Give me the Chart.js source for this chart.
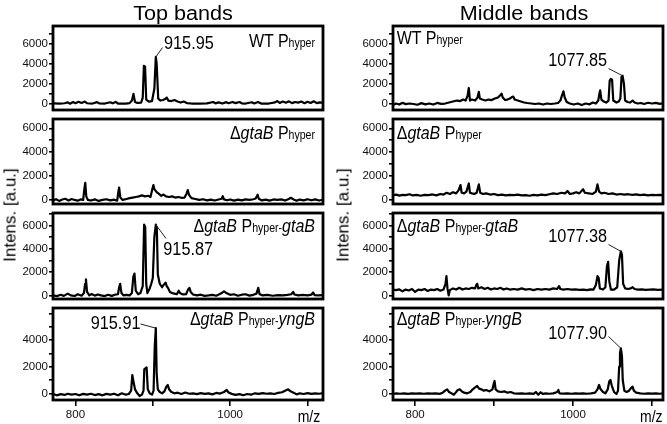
<!DOCTYPE html>
<html><head><meta charset="utf-8">
<script src="https://cdn.jsdelivr.net/npm/chart.js@4/dist/chart.umd.min.js"></script>
<style>
html,body{margin:0;padding:0;background:#fff;}
#root{position:relative;width:667px;height:424px;overflow:hidden;font-family:"Liberation Sans",Arial,sans-serif;color:#000;background:#fff;}
canvas{position:absolute;}
.t{position:absolute;white-space:nowrap;line-height:1;}
.s{font-size:0.66em;}
</style></head><body><div id="root"></div>
<script>
// ---------- DATA ----------
const titles = ["Top bands", "Middle bands"];
const panelLabels = [
  'WT P<span class="s">hyper</span>',
  '\u0394<i>gtaB</i> P<span class="s">hyper</span>',
  '\u0394<i>gtaB</i> P<span class="s">hyper-</span><i>gtaB</i>',
  '\u0394<i>gtaB</i> P<span class="s">hyper-</span><i>yngB</i>'
];
const yAxisTitle = "Intens. [a.u.]";
const xAxisTitle = "m/z";
const xTickValues = [800, 900, 1000, 1100];
const xTickLabels = [800, 1000];
const yTickLabelsUpper = [0, 2000, 4000, 6000];
const yTickLabelsBottom = [0, 2000, 4000];

// Top bands, WT Phyper
const topWT_mz = [771,780,786,790,793,797,800,804,808,812,815,822,828,831,838,845,848,852,855,865,870,873,875,877,880,885,887,888.5,890,891.5,895,899,902,903.9,905,907,910,913,916,918,920,924,928,932,936,940,944,950,960,970,978,981,985,990,995,998,1003,1007,1012,1015,1020,1028,1031,1036,1040,1050,1058,1061,1064,1068,1072,1076,1080,1084,1088,1092,1096,1100,1104,1108,1112,1116,1120];
const topWT_int = [20,0,30,120,-20,150,40,180,60,200,30,0,140,10,0,130,20,160,0,0,40,300,970,150,60,100,600,3790,3700,400,200,250,1500,4680,4000,500,300,350,450,600,300,250,350,200,100,200,50,0,0,20,150,20,120,0,140,30,160,40,150,20,0,130,10,150,0,0,120,250,60,200,80,220,40,150,90,200,30,180,60,230,40,120,60];
// Top bands, dgtaB Phyper
const topDel_mz = [771,775,779,783,787,791,795,799,803,807,810,811.5,812.7,814,816,820,825,830,835,840,845,850,854,855.5,856.5,858,861,866,870,874,878,882,886,890,894,897,899,900.8,902,905,908,911,914,917,921,925,929,933,937,941,943.5,945.2,947,950,955,960,965,970,975,980,985,989,990.4,992,996,1000,1005,1010,1015,1020,1025,1030,1033,1035.5,1037,1041,1046,1051,1056,1061,1066,1071,1075,1078.5,1082,1086,1090,1095,1100,1105,1110,1115,1120];
const topDel_int = [-50,60,-80,40,100,-40,80,0,-60,50,0,900,1425,300,0,-50,50,-80,0,60,-40,20,-60,700,1036,200,0,80,150,200,250,300,380,300,350,250,800,1246,900,650,500,350,450,300,250,300,200,250,180,200,500,826,400,150,80,0,60,-40,30,-50,40,100,311,50,-30,40,-60,30,-40,50,0,60,120,436,100,-40,30,-60,40,0,50,-50,60,180,40,-60,30,-40,60,-30,50,-50,20];
// Top bands, dgtaB Phyper-gtaB
const topGta_mz = [771,776,781,785,790,794,799,803,808,811,812.5,813.6,815,818,821,825,829,833,838,842,847,851,855,856.5,857.8,859.5,862,866,870,873,874.8,876.3,878,881,884,887,888.8,890.2,891.5,893,896,898,900,902,903.9,905.2,906.5,909,912,914,916.5,918,920,922,925,928,931,933.5,935,939,943,945.5,947.3,949,952,957,962,967,972,977,982,986,989,992,994,997,1000,1005,1010,1015,1020,1025,1030,1034,1036.3,1038,1042,1048,1055,1062,1068,1074,1079,1081.5,1083,1088,1094,1100,1105,1107.3,1109,1114,1120];
const topGta_int = [0,-60,50,-40,150,0,-50,100,-30,200,1000,1380,300,0,120,-20,80,0,-60,50,-40,60,100,700,988,200,0,50,0,200,1600,1880,400,100,200,800,6080,5900,1000,200,600,1000,1500,5000,6080,5800,1800,1000,700,900,1100,800,600,300,200,150,100,400,200,80,100,500,650,300,80,0,60,-40,0,50,-30,100,200,350,250,150,50,100,-30,60,100,-20,50,150,650,100,0,40,-30,30,0,50,100,300,80,0,40,0,60,250,30,0,20];
// Top bands, dgtaB Phyper-yngB
const topYng_mz = [771,776,781,786,790,795,800,805,810,815,820,825,830,835,840,845,850,855,860,865,869,872,873.5,875,877,880,883,886,888,889,890.5,892,893.5,896,899,901,902.5,903.9,905,906.5,909,912,915,917.5,919.4,921,924,928,932,937,942,947,952,957,962,967,972,977,982,987,992,995.5,998,1002,1007,1012,1017,1022,1027,1032,1037,1042,1047,1052,1057,1062,1067,1071,1075,1078,1082,1086,1090,1095,1100,1105,1110,1115,1120];
const topYng_int = [-50,-150,-60,-120,-30,-100,-50,-150,-40,-100,-30,-130,-60,-150,-40,-100,-30,-150,0,-100,-50,200,1375,900,300,0,-200,-100,200,1800,1880,1950,300,0,-100,200,3500,4890,1500,300,100,0,150,500,625,300,100,0,50,-50,60,-30,0,-60,20,-40,0,-80,30,-20,100,250,60,-40,-120,-60,-140,-50,-100,0,-40,20,-30,0,-50,30,80,200,300,150,50,-80,0,-50,20,-40,0,-30,10];
// Middle bands, WT Phyper
const midWT_mz = [772,776,780,784,788,793,798,803,808,813,818,823,828,833,838,843,848,853,857,861,864,866.5,868,869.5,872,876,879,880.7,882,885,889,893,897,901,905,907.5,909.5,911,914,917,920,922.5,924.4,926,930,934,938,942,947,952,957,962,967,972,977,981,984,986,987.9,989.5,992,996,1001,1006,1011,1016,1021,1025,1029,1032,1033.5,1034.4,1036,1039,1042,1045,1046.5,1048,1049.5,1051,1055,1058,1060,1061.5,1062.8,1064.5,1066,1069,1072,1075.5,1078,1082,1086,1090,1095,1100,1105,1110,1114];
const midWT_int = [-150,0,-100,80,-60,0,-50,-120,40,-80,0,-100,60,-40,0,100,200,300,250,400,300,800,1564,300,400,300,600,1170,500,400,300,400,350,500,600,800,1000,600,350,400,500,650,700,400,300,200,100,50,0,-50,0,-100,0,-50,0,50,300,800,1230,600,150,0,-100,0,-150,0,-80,100,0,300,1000,1320,400,200,100,300,2300,2480,2400,300,100,200,500,2700,2790,2000,300,150,100,300,100,0,50,-50,80,0,60,-30,40];
// Middle bands, dgtaB Phyper
const midDel_mz = [772,776,780,784,788,793,797,802,807,812,817,822,827,832,836,840,844,848,852,855,857.5,859,862,865,868,869.5,872,875,878,880.7,882.5,886,890,895,900,905,910,915,920,925,930,935,940,945,950,955,960,965,970,975,980,985,990,993,996,1000,1004,1008,1012.8,1015,1020,1025,1029,1031,1033,1036,1040,1045,1050,1055,1060,1065,1070,1075,1080,1085,1090,1095,1100,1105,1110,1114];
const midDel_int = [380,450,360,420,400,480,380,420,350,430,400,460,380,500,450,600,500,650,550,800,1250,600,550,700,1380,600,550,500,600,1300,600,500,550,450,500,400,450,380,420,400,450,380,400,350,420,380,450,400,480,550,500,600,550,750,500,550,650,550,900,600,550,500,700,1300,700,550,600,500,550,450,500,450,480,420,460,400,450,380,420,400,430,400];
// Middle bands, dgtaB Phyper-gtaB
const midGta_mz = [772,776,780,784,788,792,796,800,804,808,812,816,820,824,828,832,836,838.5,839.7,841,842.5,844,848,852,856,860,864,868,872,876,877.5,878.7,880,884,888,892,896,900,904,908,912,916,920,925,930,935,940,945,950,955,960,965,970,975,980,982.3,984,988,993,998,1003,1008,1013,1018,1022,1026,1029,1031,1032.5,1034,1038,1041,1043,1044.5,1046,1048,1052,1056,1058.5,1060.6,1062,1063.5,1066,1070,1073,1075.5,1078,1082,1087,1092,1097,1102,1107,1114];
const midGta_int = [500,450,520,350,500,420,550,300,500,450,550,380,500,450,550,400,500,1000,1650,600,0,450,600,500,650,500,600,550,650,600,900,1000,600,700,550,650,500,600,550,650,500,600,500,550,500,600,500,550,450,550,500,550,500,600,550,800,550,500,550,500,520,480,500,450,520,500,900,1650,1500,600,500,700,2500,2880,1200,500,500,700,3000,3790,3500,1000,600,550,600,700,550,500,520,480,500,520,480,500];
// Middle bands, dgtaB Phyper-yngB
const midYng_mz = [772,776,781,786,791,796,801,806,811,816,821,826,831,835,838,840.6,843,846,849,852,854,856.6,859,862,866,870,873,876,878.7,881,884,887,890,894,898,899.5,900.6,902,905,909,913,917,921,925,930,935,940,945,950,953,956,959,962,965,970,975,980,981.5,983,988,993,998,1003,1008,1013,1018,1023,1028,1031,1033,1035,1038,1041,1044,1046,1047.5,1049,1052,1055,1057,1058.5,1059.5,1060.6,1062,1063,1065,1068,1071,1073.5,1075.5,1077,1080,1085,1090,1095,1100,1105,1110,1114];
const midYng_int = [-50,0,-30,0,-40,0,-20,0,-30,0,-20,0,-40,50,200,300,100,0,-100,100,250,300,150,50,0,100,300,450,550,350,300,200,250,150,300,700,925,300,150,100,150,50,100,0,-20,0,-30,0,-40,100,-100,80,-50,0,-30,0,100,250,0,-20,0,-30,0,-20,0,-30,0,50,300,625,300,100,0,300,900,1000,600,100,-50,200,2000,3000,3380,2800,1000,200,100,200,400,500,200,50,0,-30,0,-20,0,-30,0];

// peak annotations (label, peak m/z, peak intensity)
const annTop = [["915.95", 903.9, 4680], null, ["915.87", 903.9, 6080], ["915.91", 903.9, 4890]];
const annMid = [["1077.85", 1062.8, 2790], null, ["1077.38", 1060.6, 3790], ["1077.90", 1060.6, 3380]];

const spectra = [
  [[topWT_mz, topWT_int], [topDel_mz, topDel_int], [topGta_mz, topGta_int], [topYng_mz, topYng_int]],
  [[midWT_mz, midWT_int], [midDel_mz, midDel_int], [midGta_mz, midGta_int], [midYng_mz, midYng_int]]
];

// ---------- LAYOUT ----------
const root = document.getElementById('root');
const FONT = '"Liberation Sans", Arial, sans-serif';
const PAD = 8;
const FRAME_T = [26, 119, 213, 308];
const FRAME_B = [118.5, 212.5, 307.5, 400];
const Y_MIN = [-650, -340, -310, -500];
const Y_MAX = [7790, 6780, 7080, 6400];
const Y_MINOR = [[0,1000,2000,3000,4000,5000,6000,7000],[0,1000,2000,3000,4000,5000,6000],[0,1000,2000,3000,4000,5000,6000,7000],[0,1000,2000,3000,4000,5000,6000]];
const COL_X = [0, 340];
const CANVAS_W = 332, AREA_L = 53, AREA_R = 323;
const X_MIN = [771, 772], X_MAX = [1120, 1114];
const LABEL_POS = [
  [[315, 47.3, 'right'], [315, 139.3, 'right'], [315, 232.3, 'right'], [315, 325.7, 'right']],
  [[396.7, 45, 'left'], [396.7, 139.3, 'left'], [396.7, 232.3, 'left'], [396.7, 325.7, 'left']]
];
const ANN_POS = [
  [[164, 48.3, 162.5, 47.5], null, [163.3, 254.3, 166, 238.5], [90.7, 329, 140.5, 324]],
  [[548.3, 66, 608.5, 68.5], null, [548.3, 241.7, 608.5, 244.5], [548.3, 339, 608.5, 336.5]]
];

function addText(html, x, baseline, size, align, sx, sy, extra) {
  const d = document.createElement('div');
  d.className = 't';
  d.innerHTML = html;
  d.style.fontSize = size + 'px';
  const bo = 0.8465 * size;
  d.style.top = (baseline - bo) + 'px';
  d.style.left = x + 'px';
  const tx = align === 'right' ? '-100%' : (align === 'center' ? '-50%' : '0');
  const ox = align === 'right' ? '100%' : (align === 'center' ? '50%' : '0');
  d.style.transformOrigin = ox + ' ' + bo + 'px';
  d.style.transform = 'translateX(' + tx + ') scale(' + (sx || 1) + ',' + (sy || 1) + ')';
  if (extra) Object.assign(d.style, extra);
  root.appendChild(d);
  return d;
}

const framePlugin = {
  id: 'frame',
  afterDatasetsDraw(chart) {
    const a = chart.chartArea, ctx = chart.ctx;
    ctx.save();
    ctx.lineWidth = 2.8;
    ctx.strokeStyle = '#000';
    ctx.strokeRect(a.left, a.top, a.right - a.left, a.bottom - a.top);
    ctx.restore();
  }
};
function leaderPlugin(ann, pos, cx, cy) {
  return {
    id: 'leader',
    afterDatasetsDraw(chart) {
      if (!ann) return;
      const ctx = chart.ctx;
      ctx.save();
      ctx.beginPath();
      ctx.moveTo(pos[2] - cx, pos[3] - cy);
      ctx.lineTo(chart.scales.x.getPixelForValue(ann[1]), chart.scales.y.getPixelForValue(ann[2]));
      ctx.lineWidth = 1;
      ctx.strokeStyle = '#222';
      ctx.stroke();
      ctx.restore();
    }
  };
}

function makePanel(col, row) {
  const isBottom = row === 3;
  const ctop = Math.floor(FRAME_T[row] - PAD);
  const cbot = isBottom ? 424 : Math.ceil(FRAME_B[row] + PAD);
  const h = cbot - ctop;
  const cv = document.createElement('canvas');
  cv.width = CANVAS_W; cv.height = h;
  cv.style.left = COL_X[col] + 'px'; cv.style.top = ctop + 'px';
  cv.style.width = CANVAS_W + 'px'; cv.style.height = h + 'px';
  root.appendChild(cv);
  const [mz, inten] = spectra[col][row];
  const n = Math.min(mz.length, inten.length);
  const pts = [];
  for (let i = 0; i < n; i++) pts.push({x: mz[i], y: inten[i]});
  const labels = isBottom ? yTickLabelsBottom : yTickLabelsUpper;
  const ann = (col === 0 ? annTop : annMid)[row];
  const annPos = ANN_POS[col][row];
  new Chart(cv, {
    type: 'line',
    data: { datasets: [{ data: pts, borderColor: '#000', borderWidth: 2.2, pointRadius: 0, tension: 0, fill: false, borderJoinStyle: 'round' }] },
    options: {
      responsive: false, animation: false, devicePixelRatio: 1,
      layout: { padding: { left: 0, right: CANVAS_W - AREA_R, top: FRAME_T[row] - ctop, bottom: isBottom ? 0 : cbot - FRAME_B[row] } },
      plugins: { legend: { display: false }, tooltip: { enabled: false } },
      scales: {
        x: {
          type: 'linear', min: X_MIN[col], max: X_MAX[col], display: isBottom, position: 'bottom',
          afterFit: s => { s.height = cbot - FRAME_B[row]; },
          afterBuildTicks: s => { s.ticks = xTickValues.map(v => ({value: v})); },
          ticks: { autoSkip: false, maxRotation: 0, padding: 2, color: '#111', font: { family: FONT, size: 11.5 },
                   callback: v => xTickLabels.includes(v) ? String(v) : '' },
          grid: { drawOnChartArea: false, drawTicks: true, tickLength: 6, color: '#000', lineWidth: 1.6 },
          border: { display: false }
        },
        y: {
          type: 'linear', min: Y_MIN[row], max: Y_MAX[row], position: 'left',
          afterFit: s => { s.width = AREA_L; },
          afterBuildTicks: s => { s.ticks = Y_MINOR[row].map(v => ({value: v})); },
          ticks: { autoSkip: false, padding: 1, color: '#111', font: { family: FONT, size: 11.5 },
                   callback: v => labels.includes(v) ? String(v) : '' },
          grid: { drawOnChartArea: false, drawTicks: true, tickLength: 4, color: '#000', lineWidth: 1.6 },
          border: { display: false }
        }
      }
    },
    plugins: [framePlugin, leaderPlugin(ann, annPos, COL_X[col], ctop)]
  });
  const lp = LABEL_POS[col][row];
  addText(panelLabels[row], lp[0], lp[1], 16, lp[2], 1, 1.15);
  if (ann) addText(ann[0], annPos[0], annPos[1], 16.3, 'left', 1, 1.12);
}

for (let c = 0; c < 2; c++) for (let r = 0; r < 4; r++) makePanel(c, r);

addText(titles[0], 182.5, 20, 20, 'center', 1.08, 1);
addText(titles[1], 524, 20, 20, 'center', 1.08, 1);
addText(xAxisTitle, 297.7, 421.5, 14, 'left', 1, 1.15);
addText(xAxisTitle, 640, 421.5, 14, 'left', 1, 1.15);
[9.5, 342.5].forEach(cx => {
  const d = document.createElement('div');
  d.className = 't';
  d.textContent = yAxisTitle;
  d.style.fontSize = '17px';
  d.style.left = cx + 'px';
  d.style.top = '215px';
  d.style.transform = 'translate(-50%,-50%) rotate(-90deg)';
  root.appendChild(d);
});
</script>
</body></html>
